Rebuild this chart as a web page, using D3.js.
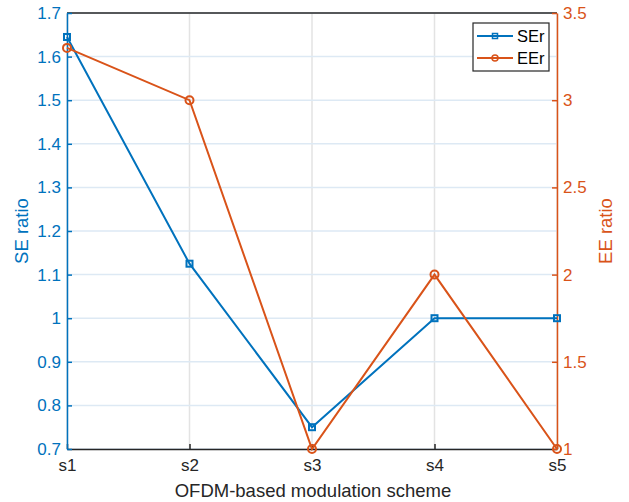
<!DOCTYPE html>
<html>
<head>
<meta charset="utf-8">
<script src="https://cdn.jsdelivr.net/npm/d3@7"></script>
<style>
  body { margin: 0; background: #fff; }
  text { font-family: "Liberation Sans", Arial, sans-serif; }
</style>
</head>
<body>
<script>
var categories = ['s1', 's2', 's3', 's4', 's5'];
var seRatio = [1.645, 1.125, 0.75, 1.0, 1.0];
var eeRatio = [3.3, 3.0, 1.0, 2.0, 1.0];
var leftTicks = [0.7, 0.8, 0.9, 1.0, 1.1, 1.2, 1.3, 1.4, 1.5, 1.6, 1.7];
var rightTicks = [1, 1.5, 2, 2.5, 3, 3.5];

var width = 629, height = 502;
var m = {left: 67, top: 13, right: 72, bottom: 53};
var w = width - m.left - m.right;
var h = height - m.top - m.bottom;

var blue = '#0072BD', orange = '#D95319';

var svg = d3.select('body').append('svg')
    .attr('width', width)
    .attr('height', height);

var g = svg.append('g').attr('transform', 'translate(' + m.left + ',' + m.top + ')');

var x = d3.scalePoint().domain(categories).range([0, w]);
var yL = d3.scaleLinear().domain([0.7, 1.7]).range([h, 0]);
var yR = d3.scaleLinear().domain([1, 3.5]).range([h, 0]);

// grid
g.selectAll('.vgrid').data(categories).enter().append('line')
    .attr('x1', function(d){ return x(d); }).attr('x2', function(d){ return x(d); })
    .attr('y1', 0).attr('y2', h)
    .attr('stroke', '#e3e3e3').attr('stroke-width', 1.5);
g.selectAll('.hgrid').data(leftTicks).enter().append('line')
    .attr('x1', 0).attr('x2', w)
    .attr('y1', function(d){ return yL(d); }).attr('y2', function(d){ return yL(d); })
    .attr('stroke', '#dde9f4').attr('stroke-width', 1.5);

// top border
g.append('line').attr('x1', 0).attr('x2', w).attr('y1', 0).attr('y2', 0)
    .attr('stroke', '#262626').attr('stroke-width', 1.5);

// axes
var xAxis = g.append('g').attr('transform', 'translate(0,' + h + ')')
    .call(d3.axisBottom(x).tickSizeInner(-5).tickSizeOuter(0).tickPadding(10));
xAxis.select('.domain').attr('stroke', '#262626').attr('stroke-width', 1.5);
xAxis.selectAll('line').attr('stroke', '#262626').attr('stroke-width', 1.5);
xAxis.selectAll('text').attr('fill', '#262626').style('font-size', '17px');

var lAxis = g.append('g')
    .call(d3.axisLeft(yL).tickValues(leftTicks).tickSizeInner(-5).tickSizeOuter(0).tickPadding(6)
      .tickFormat(function(d){ return d3.format('')(+d.toFixed(1)); }));
lAxis.select('.domain').attr('stroke', blue).attr('stroke-width', 1.5);
lAxis.selectAll('line').attr('stroke', blue).attr('stroke-width', 1.5);
lAxis.selectAll('text').attr('fill', blue).style('font-size', '17px');

var rAxis = g.append('g').attr('transform', 'translate(' + w + ',0)')
    .call(d3.axisRight(yR).tickValues(rightTicks).tickSizeInner(-5).tickSizeOuter(0).tickPadding(6)
      .tickFormat(d3.format('')));
rAxis.select('.domain').attr('stroke', orange).attr('stroke-width', 1.5);
rAxis.selectAll('line').attr('stroke', orange).attr('stroke-width', 1.5);
rAxis.selectAll('text').attr('fill', orange).style('font-size', '17px');

// labels
svg.append('text').attr('x', m.left + w / 2 + 1).attr('y', 497)
    .attr('text-anchor', 'middle').attr('fill', '#262626').style('font-size', '18.5px')
    .text('OFDM-based modulation scheme');
svg.append('text').attr('transform', 'translate(28,' + (m.top + h / 2) + ') rotate(-90)')
    .attr('text-anchor', 'middle').attr('fill', blue).style('font-size', '18.5px')
    .text('SE ratio');
svg.append('text').attr('transform', 'translate(612,' + (m.top + h / 2) + ') rotate(-90)')
    .attr('text-anchor', 'middle').attr('fill', orange).style('font-size', '18.5px')
    .text('EE ratio');

// lines
var lineL = d3.line().x(function(d, i){ return x(categories[i]); }).y(function(d){ return yL(d); });
var lineR = d3.line().x(function(d, i){ return x(categories[i]); }).y(function(d){ return yR(d); });

g.append('path').datum(seRatio).attr('d', lineL)
    .attr('fill', 'none').attr('stroke', blue).attr('stroke-width', 2);
g.selectAll('.sq').data(seRatio).enter().append('rect')
    .attr('x', function(d, i){ return x(categories[i]) - 3; })
    .attr('y', function(d){ return yL(d) - 3; })
    .attr('width', 6).attr('height', 6)
    .attr('fill', 'none').attr('stroke', blue).attr('stroke-width', 2);

g.append('path').datum(eeRatio).attr('d', lineR)
    .attr('fill', 'none').attr('stroke', orange).attr('stroke-width', 2);
g.selectAll('.ci').data(eeRatio).enter().append('circle')
    .attr('cx', function(d, i){ return x(categories[i]); })
    .attr('cy', function(d){ return yR(d); })
    .attr('r', 4)
    .attr('fill', 'none').attr('stroke', orange).attr('stroke-width', 2);

// legend
var lg = svg.append('g').attr('transform', 'translate(473,23)');
lg.append('rect').attr('width', 76).attr('height', 48)
    .attr('fill', '#fff').attr('stroke', '#262626').attr('stroke-width', 1.2);
var items = [{name: 'SEr', color: blue, shape: 'sq'}, {name: 'EEr', color: orange, shape: 'ci'}];
items.forEach(function(it, i){
  var yy = 13 + i * 22;
  lg.append('line').attr('x1', 4).attr('x2', 40).attr('y1', yy).attr('y2', yy)
    .attr('stroke', it.color).attr('stroke-width', 2);
  if (it.shape === 'sq') {
    lg.append('rect').attr('x', 19.5).attr('y', yy - 2.5).attr('width', 5).attr('height', 5)
      .attr('fill', 'none').attr('stroke', it.color).attr('stroke-width', 1.5);
  } else {
    lg.append('circle').attr('cx', 22).attr('cy', yy).attr('r', 3)
      .attr('fill', 'none').attr('stroke', it.color).attr('stroke-width', 1.5);
  }
  lg.append('text').attr('x', 44).attr('y', yy + 6).attr('fill', '#000')
    .style('font-size', '16.5px').text(it.name);
});
</script>
</body>
</html>
